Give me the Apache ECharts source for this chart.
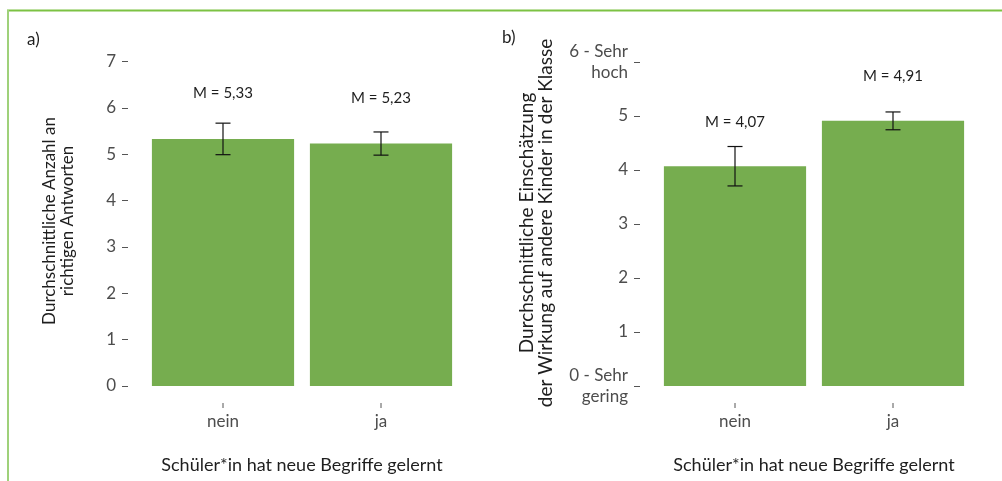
<!DOCTYPE html>
<html>
<head>
<meta charset="utf-8">
<script src="https://cdn.jsdelivr.net/npm/echarts@6/dist/echarts.min.js"></script>
<style>
  html, body { margin: 0; padding: 0; background: #fff; }
  #chart { width: 1002px; height: 481px; }
</style>
</head>
<body>
<div id="chart"></div>
<script>
// Categories shared by both panels
const categories = ['nein', 'ja'];

// Panel a): mean number of correct answers and error half-widths
const meansA = [5.33, 5.23];
const errorsA = [0.34, 0.25];
const ticksA = [0, 1, 2, 3, 4, 5, 6, 7];

// Panel b): mean rating of the effect on other children and error half-widths
const meansB = [4.07, 4.91];
const errorsB = [0.365, 0.165];
const tickLabelsB = ['0 - Sehr\ngering', '1', '2', '3', '4', '5', '6 - Sehr\nhoch'];

const xTitle = 'Schüler*in hat neue Begriffe gelernt';
const yTitleA = 'Durchschnittliche Anzahl an\nrichtigen Antworten';
const yTitleB = 'Durchschnittliche Einschätzung\nder Wirkung auf andere Kinder in der Klasse';

const FONT = 'Lato';
const BAR_COLOR = '#76ad4f';
const TICK_COLOR = '#555555';
const LABEL_COLOR = '#4d4d4d';
const TEXT_COLOR = '#1e1e1e';

function fmt(v) { return 'M = ' + v.toFixed(2).replace('.', ','); }

// Error bars (whisker with caps at mean ± error) plus the small category tick
// that sits below the bar, offset from the baseline like the value-axis ticks.
function errorRender(errs) {
  return function (params, api) {
    const i = api.value(0);
    const m = api.value(1);
    const e = errs[i];
    const top = api.coord([i, m + e]);
    const bot = api.coord([i, m - e]);
    const base = api.coord([i, 0]);
    const half = 7.5;
    const style = { stroke: '#111', lineWidth: 1.2 };
    return {
      type: 'group',
      children: [
        { type: 'line', shape: { x1: top[0], y1: top[1], x2: bot[0], y2: bot[1] }, style },
        { type: 'line', shape: { x1: top[0] - half, y1: top[1], x2: top[0] + half, y2: top[1] }, style },
        { type: 'line', shape: { x1: bot[0] - half, y1: bot[1], x2: bot[0] + half, y2: bot[1] }, style },
        {
          type: 'line',
          shape: { x1: base[0], y1: base[1] + 17, x2: base[0], y2: base[1] + 22 },
          style: { stroke: TICK_COLOR, lineWidth: 1 }
        }
      ]
    };
  };
}

function xAxisCfg(gridIndex) {
  return {
    type: 'category', gridIndex, data: categories,
    offset: 17,
    axisLine: { show: false },
    axisTick: { show: false },
    axisLabel: { color: LABEL_COLOR, fontFamily: FONT, fontSize: 17, margin: 10 },
    name: xTitle,
    nameLocation: 'middle', nameGap: 53,
    nameTextStyle: { color: TEXT_COLOR, fontFamily: FONT, fontSize: 18 }
  };
}

function yAxisCfg(gridIndex, max, formatter) {
  return {
    type: 'value', gridIndex, min: 0, max, interval: 1,
    offset: 16,
    splitLine: { show: false },
    axisLine: { show: false },
    axisTick: { show: true, length: 6, lineStyle: { color: TICK_COLOR, width: 1 } },
    axisLabel: {
      color: LABEL_COLOR, fontFamily: FONT, fontSize: 17, margin: 12, lineHeight: 21, align: 'right',
      formatter
    }
  };
}

const chart = echarts.init(document.getElementById('chart'), null, { renderer: 'canvas' });

chart.setOption({
  animation: false,
  backgroundColor: '#ffffff',
  grid: [
    { left: 144, right: 542, top: 61.5, bottom: 95 },
    { left: 656, right: 30, top: 62, bottom: 95 }
  ],
  xAxis: [xAxisCfg(0), xAxisCfg(1)],
  yAxis: [
    yAxisCfg(0, ticksA[ticksA.length - 1], (v) => String(v)),
    yAxisCfg(1, tickLabelsB.length - 1, (v) => tickLabelsB[v])
  ],
  graphic: [
    { type: 'line', shape: { x1: 7, y1: 10.5, x2: 1002, y2: 10.5 }, style: { stroke: '#7cc243', lineWidth: 2 } },
    { type: 'line', shape: { x1: 8, y1: 10, x2: 8, y2: 481 }, style: { stroke: '#9fd17a', lineWidth: 2 } },
    { type: 'text', left: 27, top: 31, style: { text: 'a)', fontSize: 17, fontFamily: FONT, fill: TEXT_COLOR } },
    { type: 'text', left: 502, top: 29, style: { text: 'b)', fontSize: 17, fontFamily: FONT, fill: TEXT_COLOR } },
    {
      type: 'text', x: 59, y: 221, rotation: Math.PI / 2,
      style: { text: yTitleA, fontSize: 17, fontFamily: FONT, fill: TEXT_COLOR, align: 'center', verticalAlign: 'middle', lineHeight: 18 }
    },
    {
      type: 'text', x: 536.5, y: 223, rotation: Math.PI / 2,
      style: { text: yTitleB, fontSize: 19, fontFamily: FONT, fill: TEXT_COLOR, align: 'center', verticalAlign: 'middle', lineHeight: 19 }
    }
  ],
  series: [
    {
      type: 'bar', xAxisIndex: 0, yAxisIndex: 0, data: meansA,
      barCategoryGap: '10%', itemStyle: { color: BAR_COLOR },
      label: {
        show: true, position: 'top', distance: 38, color: TEXT_COLOR, fontFamily: FONT, fontSize: 15,
        formatter: (p) => fmt(p.value)
      }
    },
    {
      type: 'custom', xAxisIndex: 0, yAxisIndex: 0, z: 5, clip: false,
      data: meansA.map((m, i) => [i, m]),
      renderItem: errorRender(errorsA)
    },
    {
      type: 'bar', xAxisIndex: 1, yAxisIndex: 1, data: meansB,
      barCategoryGap: '10%', itemStyle: { color: BAR_COLOR },
      label: {
        show: true, position: 'top', distance: 37, color: TEXT_COLOR, fontFamily: FONT, fontSize: 15,
        formatter: (p) => fmt(p.value)
      }
    },
    {
      type: 'custom', xAxisIndex: 1, yAxisIndex: 1, z: 5, clip: false,
      data: meansB.map((m, i) => [i, m]),
      renderItem: errorRender(errorsB)
    }
  ]
});
</script>
</body>
</html>
